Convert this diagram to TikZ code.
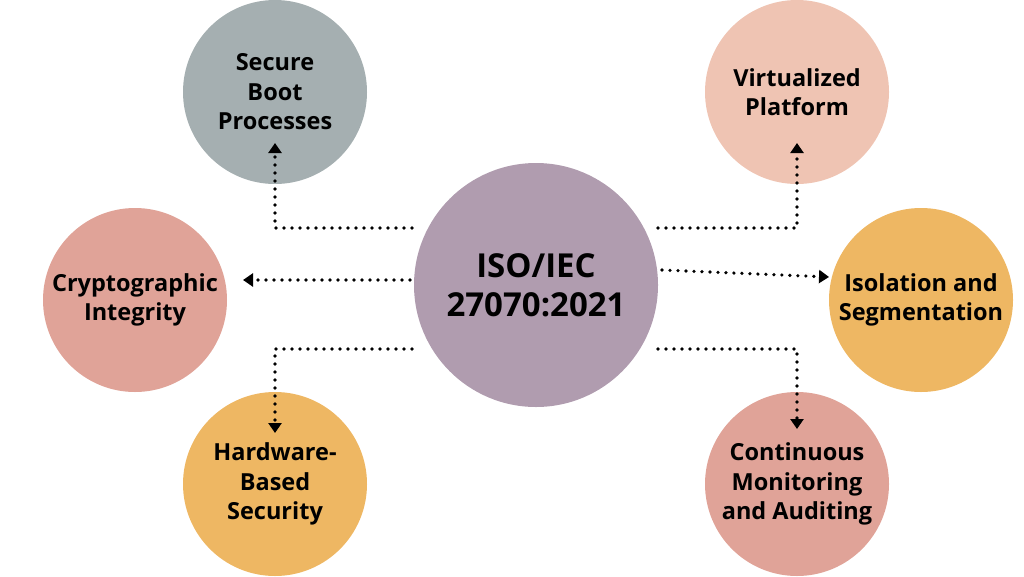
\documentclass[tikz,border=0pt]{standalone}
\usepackage{fontspec}
\setmainfont{Open Sans}
\usetikzlibrary{arrows.meta}
\definecolor{isoviolet}{HTML}{B09CAF}
\definecolor{bootgrey}{HTML}{A5AFB1}
\definecolor{peach}{HTML}{EFC4B3}
\definecolor{salmon}{HTML}{E0A398}
\definecolor{amber}{HTML}{EEB763}

\begin{document}
\begin{tikzpicture}[x=1pt, y=-1pt, font=\fontsize{23.5}{29.5}\selectfont\bfseries,
  topic/.style={circle, minimum size=184pt, inner sep=0pt, align=center},
  link/.style={line width=3.6pt, line cap=round, dash pattern=on 0pt off 8pt,
    -{Triangle[width=13pt, length=10pt]}}]
  \useasboundingbox (0,0) rectangle (1024,576);
  \node[topic, minimum size=244pt, fill=isoviolet,
    font=\fontsize{33}{39}\selectfont\bfseries] (iso) at (536,285) {ISO/IEC\\27070:2021};
  \node[topic, fill=bootgrey] (boot) at (275,92) {Secure\\Boot\\Processes};
  \node[topic, fill=peach] (virt) at (797,92) {Virtualized\\Platform};
  \node[topic, fill=salmon] (crypto) at (135,300) {Cryptographic\\Integrity};
  \node[topic, fill=amber] (isol) at (921,300) {Isolation and\\Segmentation};
  \node[topic, fill=amber] (hw) at (275,484) {Hardware-\\Based\\Security};
  \node[topic, fill=salmon] (mon) at (797,484) {Continuous\\Monitoring\\and Auditing};
  % ends of the dotted links
  \coordinate (ulstart) at (412,228);
  \coordinate (urstart) at (658,228);
  \coordinate (lstart) at (410,280);
  \coordinate (rstart) at (662,270);
  \coordinate (llstart) at (412,349);
  \coordinate (lrstart) at (658,349);
  \coordinate (bootend) at (275,143);
  \coordinate (virtend) at (797,143);
  \coordinate (cryptoend) at (243,280);
  \coordinate (isolend) at (829,277);
  \coordinate (hwend) at (275,433);
  \coordinate (monend) at (797,429);
  \draw[link] (ulstart) -| (bootend);
  \draw[link] (urstart) -| (virtend);
  \draw[link] (lstart) -- (cryptoend);
  \draw[link] (rstart) -- (isolend);
  \draw[link] (llstart) -| (hwend);
  \draw[link] (lrstart) -| (monend);
\end{tikzpicture}
\end{document}
